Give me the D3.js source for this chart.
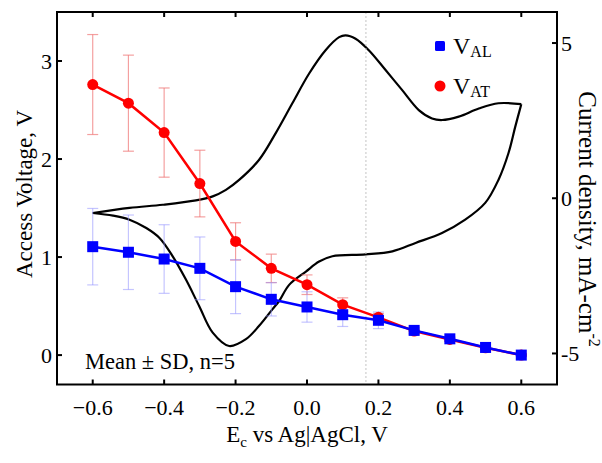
<!DOCTYPE html>
<html><head><meta charset="utf-8">
<script src="https://cdn.jsdelivr.net/npm/d3@7"></script>
<style>body{margin:0;background:#fff;} svg{display:block;}</style>
</head><body>
<svg id="c" width="602" height="463"></svg>
<script>
// ---- data ----
const potentials = [-0.6,-0.5,-0.4,-0.3,-0.2,-0.1,0.0,0.1,0.2,0.3,0.4,0.5,0.6];
const vatMean = [2.76,2.57,2.27,1.75,1.16,0.885,0.718,0.514,0.385,0.245,0.16,0.075,0.0];
const vatSD   = [0.51,0.49,0.455,0.34,0.19,0.145,0.10,0.07,0.04,0.03,0.02,0.01,0.01];
const valMean = [1.106,1.049,0.98,0.885,0.698,0.569,0.491,0.412,0.355,0.252,0.166,0.078,0.0];
const valSD   = [0.39,0.38,0.35,0.32,0.275,0.17,0.155,0.12,0.085,0.03,0.02,0.01,0.01];
// cyclic voltammogram (right axis): anodic sweep -0.6 -> 0.6, then cathodic sweep 0.6 -> -0.6
const cvAnodicE = [-0.6,-0.497,-0.404,-0.311,-0.264,-0.227,-0.19,-0.134,-0.088,-0.041,0.006,0.052,0.09,0.108,0.136,0.173,0.22,0.266,0.313,0.35,0.378,0.425,0.481,0.536,0.6];
const cvAnodicJ = [-0.475,-0.31,-0.21,-0.07,0.06,0.27,0.59,1.24,2.09,3.06,4.02,4.77,5.19,5.25,5.14,4.77,4.13,3.49,2.84,2.57,2.52,2.63,2.89,3.06,3.03];
const cvCathodicE = [0.6,0.583,0.564,0.536,0.499,0.443,0.378,0.304,0.239,0.164,0.071,0.034,-0.003,-0.05,-0.078,-0.097,-0.134,-0.171,-0.218,-0.264,-0.302,-0.339,-0.376,-0.413,-0.45,-0.497,-0.543,-0.6];
const cvCathodicJ = [3.03,2.30,1.45,0.59,-0.15,-0.69,-1.12,-1.44,-1.71,-1.81,-1.87,-2.04,-2.36,-2.79,-3.31,-3.58,-4.11,-4.54,-4.76,-4.33,-3.47,-2.62,-1.87,-1.28,-0.96,-0.69,-0.56,-0.475];
const xTicks = [-0.6,-0.4,-0.2,0.0,0.2,0.4,0.6];
const yLeftTicks = [0,1,2,3];
const yRightTicks = [-5,0,5];
const markerE = 0.165;

// ---- layout ----
const L=57, R=557, T=12, B=384.5;
const svg = d3.select("#c");
const font = "'Liberation Serif','Times New Roman',serif";
const x = d3.scaleLinear().domain([-0.7,0.7]).range([L,R]);
const y = d3.scaleLinear().domain([-0.3,3.5]).range([B,T]);
const y2 = d3.scaleLinear().domain([-6,6]).range([B,T]);

const g = svg.append("g");
// CV curve, two sweeps joined at sharp vertices
const cvLine = d3.line().x(d=>x(d[0])).y(d=>y2(d[1])).curve(d3.curveCatmullRom.alpha(0.5));
const anodic = cvAnodicE.map((e,i)=>[e,cvAnodicJ[i]]);
const cathodic = cvCathodicE.map((e,i)=>[e,cvCathodicJ[i]]);
[anodic, cathodic].forEach(pts=>{
  g.append("path").attr("d", cvLine(pts)).attr("fill","none").attr("stroke","#000")
   .attr("stroke-width",2.2).attr("stroke-linejoin","miter");
});
// dotted vertical line
g.append("line").attr("x1",x(markerE)).attr("x2",x(markerE)).attr("y1",T).attr("y2",B)
  .attr("stroke","#c4c4c4").attr("stroke-width",1).attr("stroke-dasharray","2,2");

function errBars(mean, sd, color){
  const eg = g.append("g").attr("stroke",color).attr("stroke-width",1.2).attr("fill","none");
  potentials.forEach((p,i)=>{
    const cx=x(p), y1=y(mean[i]+sd[i]), y0=y(mean[i]-sd[i]);
    eg.append("line").attr("x1",cx).attr("x2",cx).attr("y1",y1).attr("y2",y0);
    eg.append("line").attr("x1",cx-5.5).attr("x2",cx+5.5).attr("y1",y1).attr("y2",y1);
    eg.append("line").attr("x1",cx-5.5).attr("x2",cx+5.5).attr("y1",y0).attr("y2",y0);
  });
}
errBars(vatMean, vatSD, "rgba(240,120,120,0.7)");
errBars(valMean, valSD, "rgba(150,150,255,0.55)");

const ln = d3.line().x((d,i)=>x(potentials[i])).y(d=>y(d));
g.append("path").attr("d",ln(vatMean)).attr("fill","none").attr("stroke","#ff0000").attr("stroke-width",2.5);
g.selectAll(".rc").data(vatMean).join("circle").attr("cx",(d,i)=>x(potentials[i])).attr("cy",d=>y(d)).attr("r",5.5).attr("fill","#ff0000");
g.append("path").attr("d",ln(valMean)).attr("fill","none").attr("stroke","#0000ff").attr("stroke-width",2.5);
g.selectAll(".bs").data(valMean).join("rect").attr("x",(d,i)=>x(potentials[i])-5.5).attr("y",d=>y(d)-5.5).attr("width",11).attr("height",11).attr("fill","#0000ff");

// frame
svg.append("rect").attr("x",L).attr("y",T).attr("width",R-L).attr("height",B-T).attr("fill","none").attr("stroke","#000").attr("stroke-width",2);
// ticks (inward)
const tk = svg.append("g").attr("stroke","#000").attr("stroke-width",2);
xTicks.forEach(v=>{
  tk.append("line").attr("x1",x(v)).attr("x2",x(v)).attr("y1",B).attr("y2",B-5);
  tk.append("line").attr("x1",x(v)).attr("x2",x(v)).attr("y1",T).attr("y2",T+5);
});
yLeftTicks.forEach(v=>tk.append("line").attr("x1",L).attr("x2",L+5).attr("y1",y(v)).attr("y2",y(v)));
yRightTicks.forEach(v=>tk.append("line").attr("x1",R).attr("x2",R-5).attr("y1",y2(v)).attr("y2",y2(v)));

const txt = svg.append("g").attr("font-family",font).attr("fill","#000");
xTicks.forEach(v=>txt.append("text").attr("x",x(v)).attr("y",415).attr("text-anchor","middle").attr("font-size",22).text(d3.format(".1f")(v)));
yLeftTicks.forEach(v=>txt.append("text").attr("x",52).attr("y",y(v)).attr("dy","0.35em").attr("text-anchor","end").attr("font-size",22).text(v));
yRightTicks.forEach(v=>txt.append("text").attr("x",561).attr("y",y2(v)).attr("dy","0.35em").attr("text-anchor","start").attr("font-size",22).text(v));

// axis titles
const xt = txt.append("text").attr("x",307).attr("y",442).attr("text-anchor","middle").attr("font-size",23);
xt.append("tspan").text("E");
xt.append("tspan").attr("font-size",15).attr("dy",5).text("c");
xt.append("tspan").attr("dy",-5).text(" vs Ag|AgCl, V");

txt.append("text").attr("transform","translate(32,194) rotate(-90)").attr("text-anchor","middle").attr("font-size",23).text("Access Voltage, V");
const rt = txt.append("text").attr("transform","translate(579,219) rotate(90)").attr("text-anchor","middle").attr("font-size",25);
rt.append("tspan").text("Current density, mA-cm");
rt.append("tspan").attr("font-size",16).attr("dy",-10).text("-2");

txt.append("text").attr("x",85).attr("y",369).attr("font-size",22.5).text("Mean \u00B1 SD, n=5");

// legend
svg.append("rect").attr("x",435).attr("y",41).attr("width",10).attr("height",10).attr("rx",1.5).attr("fill","#0000ff");
svg.append("circle").attr("cx",440).attr("cy",86).attr("r",5.5).attr("fill","#ff0000");
const l1 = txt.append("text").attr("x",453).attr("y",54).attr("font-size",24);
l1.append("tspan").text("V"); l1.append("tspan").attr("font-size",16).attr("dy",3).text("AL");
const l2 = txt.append("text").attr("x",453).attr("y",93.5).attr("font-size",24);
l2.append("tspan").text("V"); l2.append("tspan").attr("font-size",16).attr("dy",3).text("AT");
</script>
</body></html>
